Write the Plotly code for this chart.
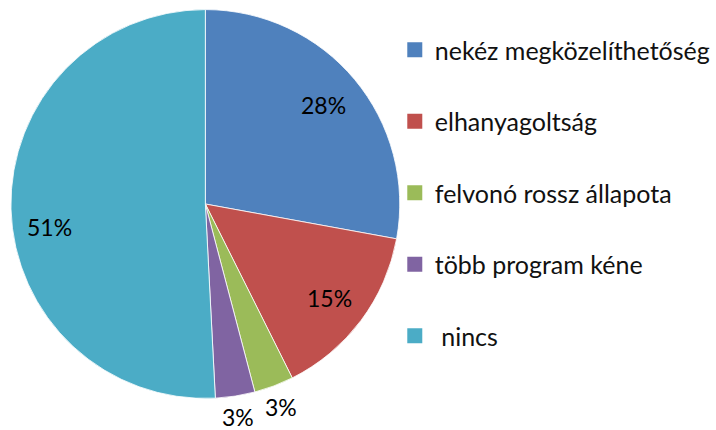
import math
import plotly.graph_objects as go

labels = ["nekéz megközelíthetőség", "elhanyagoltság", "felvonó rossz állapota", "több program kéne", " nincs"]
values = [17, 9, 2, 2, 31]
colors = ["#4F81BD", "#C0504D", "#9BBB59", "#8064A2", "#4BACC6"]
label_radius = [0.79, 0.80, 1.11, 1.105, 0.80]   # style: radial placement of the % labels
label_yshift = [0, 0, 0, 0, -19]                  # style: small vertical nudge (pixels)

FONT = "Lato"
W, H = 716, 430
CX, CY, R = 206.5, 204.0, 195.5   # pie centre / radius in pixels (layout)

fig = go.Figure()
fig.add_trace(go.Pie(
    labels=labels, values=values, sort=False, direction="clockwise", rotation=0,
    marker=dict(colors=colors, line=dict(color="white", width=0.8)),
    textinfo="none", showlegend=False, hoverinfo="label+percent",
    domain=dict(x=[(CX - R) / W, (CX + R) / W], y=[1 - (CY + R) / H, 1 - (CY - R) / H]),
))

# percentage labels placed on the bisector of each slice (angles from the data)
total = sum(values)
cum = 0
for v, f, dy in zip(values, label_radius, label_yshift):
    mid = (cum + v / 2) / total * 2 * math.pi
    cum += v
    px = CX + f * R * math.sin(mid)
    py = CY - f * R * math.cos(mid)
    fig.add_annotation(
        x=px / W, y=1 - py / H, xref="paper", yref="paper",
        text=f"{round(v / total * 100)}%", showarrow=False,
        font=dict(family=FONT, size=23, color="black"),
        xanchor="center", yanchor="middle", yshift=dy,
    )

for i, (lab, col) in enumerate(zip(labels, colors)):
    fig.add_trace(go.Scatter(
        x=[None], y=[None], mode="markers", name=lab, legendgroup=f"g{i}",
        marker=dict(symbol="square", size=15, color=col),
    ))

fig.update_layout(
    width=W, height=H, margin=dict(l=0, r=0, t=0, b=0),
    paper_bgcolor="white", plot_bgcolor="white",
    xaxis=dict(visible=False), yaxis=dict(visible=False),
    legend=dict(x=397 / W, y=1 - 27 / H, xanchor="left", yanchor="top",
                font=dict(family=FONT, size=25, color="#111111"),
                tracegroupgap=36, traceorder="grouped",
                bgcolor="rgba(0,0,0,0)"),
)
fig.write_html("out.html", config={"displayModeBar": False},
               post_script="document.body.style.margin='0px';")
